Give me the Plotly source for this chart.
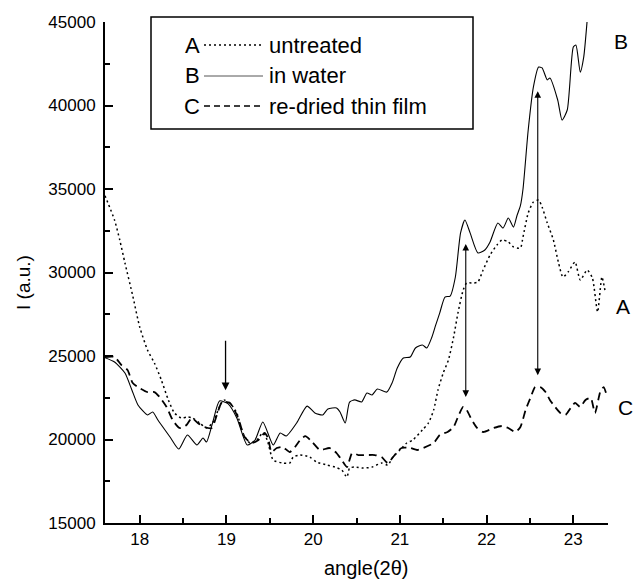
import plotly.graph_objects as go

# ---- data ----
angle_B = [17.60, 17.71, 17.83, 17.91, 17.98, 18.09, 18.15, 18.21, 18.35, 18.45, 18.55, 18.66, 18.73, 18.77,
           18.84, 18.92, 19.02, 19.12, 19.24, 19.33, 19.42, 19.54, 19.62, 19.69, 19.81, 19.93, 20.02, 20.11,
           20.17, 20.27, 20.31, 20.37, 20.42, 20.48, 20.56, 20.62, 20.68, 20.74, 20.85, 20.91, 20.97, 21.04,
           21.12, 21.18, 21.26, 21.31, 21.37, 21.41, 21.46, 21.52, 21.58, 21.64, 21.70, 21.75, 21.81, 21.90,
           21.98, 22.04, 22.13, 22.19, 22.25, 22.31, 22.35, 22.39, 22.42, 22.48, 22.54, 22.60, 22.64, 22.70,
           22.73, 22.82, 22.87, 22.93, 23.00, 23.03, 23.08, 23.12, 23.16, 23.18]
int_B = [24900, 24640, 23980, 22965, 22070, 21470, 21650, 21170, 20150, 19430, 20270, 19670, 20090, 19850,
         20990, 22310, 22130, 21290, 19670, 19970, 21050, 19670, 20390, 20210, 20990, 22000, 21590, 21470,
         21830, 21890, 21650, 20990, 22240, 22370, 22250, 22780, 22670, 23020, 22840, 23380, 24280, 24880,
         24940, 25480, 25660, 25480, 26140, 26800, 27580, 28530, 28590, 29730, 32370, 33140, 32370, 31170,
         31350, 31830, 32960, 32660, 33260, 32720, 33400, 34000, 35000, 38530, 41110, 42300, 42250, 41530,
         41650, 40330, 39130, 39730, 43500, 43620, 42000, 42900, 45120, 46500]

angle_A = [17.60, 17.71, 17.77, 17.83, 17.92, 18.00, 18.09, 18.17, 18.25, 18.33, 18.40, 18.48, 18.55, 18.61,
           18.69, 18.77, 18.84, 18.92, 18.97, 19.04, 19.12, 19.19, 19.27, 19.35, 19.42, 19.47, 19.54, 19.65,
           19.73, 19.77, 19.85, 19.96, 20.04, 20.16, 20.25, 20.33, 20.39, 20.42, 20.48, 20.58, 20.68, 20.79,
           20.86, 20.92, 21.00, 21.08, 21.15, 21.26, 21.33, 21.39, 21.44, 21.50, 21.56, 21.62, 21.67, 21.73,
           21.77, 21.85, 21.90, 21.96, 22.04, 22.12, 22.18, 22.25, 22.31, 22.39, 22.42, 22.48, 22.54, 22.60,
           22.64, 22.70, 22.77, 22.83, 22.88, 22.94, 23.02, 23.08, 23.16, 23.22, 23.28, 23.33, 23.37]
int_A = [34600, 33140, 31950, 30570, 28600, 26740, 25360, 24580, 23560, 22370, 21590, 21290, 21350, 21290,
         20990, 20690, 20990, 21950, 22370, 22190, 21590, 20390, 19790, 19970, 20390, 19970, 18770, 18590,
         18590, 18950, 19070, 18950, 18650, 18470, 18350, 18170, 17750, 18290, 18350, 18290, 18350, 18590,
         18470, 18950, 19370, 19790, 19970, 20570, 20990, 21770, 22970, 23980, 24760, 26140, 27580, 28950,
         29370, 29370, 29430, 30150, 31050, 31650, 31950, 31830, 31530, 31470, 32130, 33560, 34220, 34340,
         33920, 32960, 31950, 30570, 29730, 30030, 30630, 29550, 30150, 29670, 27640, 29730, 28770]

angle_C = [17.60, 17.71, 17.79, 17.86, 17.92, 18.00, 18.09, 18.17, 18.23, 18.31, 18.38, 18.46, 18.54, 18.60,
           18.67, 18.75, 18.83, 18.89, 18.95, 19.04, 19.13, 19.21, 19.29, 19.37, 19.44, 19.48, 19.52, 19.58,
           19.65, 19.73, 19.79, 19.85, 19.91, 19.99, 20.08, 20.19, 20.27, 20.33, 20.39, 20.45, 20.52, 20.62,
           20.71, 20.79, 20.86, 20.94, 21.02, 21.12, 21.20, 21.27, 21.39, 21.46, 21.55, 21.62, 21.67, 21.73,
           21.77, 21.83, 21.89, 21.96, 22.08, 22.18, 22.25, 22.33, 22.39, 22.45, 22.51, 22.56, 22.62, 22.68,
           22.73, 22.79, 22.85, 22.91, 22.97, 23.02, 23.08, 23.14, 23.20, 23.25, 23.31, 23.35, 23.39]
int_C = [24940, 24940, 24460, 24160, 23380, 23080, 22840, 22840, 22540, 21950, 21170, 20690, 20870, 21290,
         20990, 20750, 20690, 21470, 22250, 22190, 21350, 20150, 19790, 19970, 20390, 20090, 19250, 19490,
         19550, 19250, 19550, 19970, 20200, 19850, 19370, 19490, 19190, 18770, 18350, 19190, 19070, 19070,
         19070, 18950, 18590, 19070, 19490, 19490, 19370, 19490, 19790, 20270, 20450, 20750, 21350, 21950,
         21770, 21170, 20690, 20450, 20690, 20810, 20690, 20450, 20750, 21770, 22550, 23140, 23140, 22840,
         22370, 21950, 21590, 21470, 21890, 22190, 21950, 22370, 22490, 21590, 22840, 23140, 22550]

series_letters = ["A", "B", "C"]
series_names = ["untreated", "in water", "re-dried thin film"]

# arrows: single marker at 19 and two double-headed arrows
arrow1_x, arrow1_from, arrow1_to = 18.99, 26000, 22950
darrow_x = [21.76, 22.59]
darrow_top = [31800, 40950]
darrow_bottom = [22550, 23850]

x_ticks = [18, 19, 20, 21, 22, 23]
y_ticks = [15000, 20000, 25000, 30000, 35000, 40000, 45000]
y_tick_labels = [str(v) for v in y_ticks]

FONT = "Liberation Sans, Arial, sans-serif"
W, H = 635, 582
ML, MR, MT, MB = 105, 27, 22, 59
PW, PH = W - ML - MR, H - MT - MB


def px2paper(px, py):
    return (px - ML) / PW, (H - MB - py) / PH


fig = go.Figure()
fig.add_trace(go.Scatter(x=angle_A, y=int_A, mode="lines", line=dict(color="black", width=1.5, dash="2px,3px", shape="spline", smoothing=0.6), showlegend=False))
fig.add_trace(go.Scatter(x=angle_B, y=int_B, mode="lines", line=dict(color="black", width=1.1, shape="spline", smoothing=0.6), showlegend=False))
fig.add_trace(go.Scatter(x=angle_C, y=int_C, mode="lines", line=dict(color="black", width=1.8, dash="8px,5px", shape="spline", smoothing=0.6), showlegend=False))

ann = []
# single arrow
ann.append(dict(x=arrow1_x, y=arrow1_to, ax=arrow1_x, ay=arrow1_from, xref="x", yref="y", axref="x", ayref="y",
                showarrow=True, arrowhead=2, arrowsize=1.2, arrowwidth=1.3, arrowcolor="black", text=""))
for xv, yt, yb in zip(darrow_x, darrow_top, darrow_bottom):
    ann.append(dict(x=xv, y=yb, ax=xv, ay=yt, xref="x", yref="y", axref="x", ayref="y",
                    showarrow=True, arrowhead=2, startarrowhead=2, arrowside="end+start", arrowsize=1.2,
                    startarrowsize=1.2, arrowwidth=1.1, arrowcolor="black", text=""))

# curve end labels
end_labels = [("B", 621, 42), ("A", 623, 306), ("C", 625, 407)]
for t, px, py in end_labels:
    xp, yp = px2paper(px, py)
    ann.append(dict(text=t, x=xp, y=yp, xref="paper", yref="paper", showarrow=False,
                    font=dict(family=FONT, size=21, color="black"), xanchor="center", yanchor="middle"))

# axis titles
xp, yp = px2paper(366, 568)
ann.append(dict(text="angle(2θ)", x=xp, y=yp, xref="paper", yref="paper", showarrow=False,
                font=dict(family=FONT, size=20, color="black"), xanchor="center", yanchor="middle"))
xp, yp = px2paper(23, 283)
ann.append(dict(text="I (a.u.)", x=xp, y=yp, xref="paper", yref="paper", showarrow=False,
                textangle=-90, font=dict(family=FONT, size=19, color="black"), xanchor="center", yanchor="middle"))

# custom legend
shapes = []
bx0, by1 = px2paper(151, 17)
bx1, by0 = px2paper(473, 129)
shapes.append(dict(type="rect", xref="paper", yref="paper", x0=bx0, x1=bx1, y0=by0, y1=by1,
                   line=dict(color="black", width=1.5), fillcolor="white", layer="above"))
row_y = [45, 76, 106]
dashes = [("2px,3px", 1.3, "black"), ("solid", 1.0, "#555"), ("6px,4px", 1.4, "black")]
for i, (letter, name) in enumerate(zip(series_letters, series_names)):
    py = row_y[i]
    xl, yl = px2paper(192, py)
    ann.append(dict(text=letter, x=xl, y=yl, xref="paper", yref="paper", showarrow=False,
                    font=dict(family=FONT, size=22, color="black"), xanchor="center", yanchor="middle"))
    xn, _ = px2paper(267, py)
    ann.append(dict(text=name, x=xn, y=yl, xref="paper", yref="paper", showarrow=False,
                    font=dict(family=FONT, size=22, color="black"), xanchor="left", yanchor="middle"))
    d, w, c = dashes[i]
    x0, _ = px2paper(204, py)
    x1, _ = px2paper(263, py)
    shapes.append(dict(type="line", xref="paper", yref="paper", x0=x0, x1=x1, y0=yl, y1=yl,
                       line=dict(color=c, width=w, dash=d)))

fig.update_layout(
    width=W, height=H,
    margin=dict(l=ML, r=MR, t=MT, b=MB),
    paper_bgcolor="white", plot_bgcolor="white",
    showlegend=False,
    annotations=ann, shapes=shapes,
    font=dict(family=FONT, color="black"),
)
fig.update_xaxes(range=[17.6, 23.4], tickvals=x_ticks, ticks="inside", ticklen=8, tickwidth=1.5, tickcolor="black",
                 showline=True, linecolor="black", linewidth=2, showgrid=False, zeroline=False,
                 tickfont=dict(family=FONT, size=17, color="black"),
                 minor=dict(dtick=0.5, tick0=17.5, ticks="inside", ticklen=5, tickwidth=1.5, tickcolor="black", showgrid=False))
fig.update_yaxes(range=[15000, 45000], tickvals=y_ticks, ticktext=y_tick_labels, ticks="inside", ticklen=8, tickwidth=1.5,
                 tickcolor="black", showline=True, linecolor="black", linewidth=2, showgrid=False, zeroline=False,
                 tickfont=dict(family=FONT, size=17, color="black"), ticklabelstandoff=4,
                 minor=dict(dtick=2500, tick0=15000, ticks="inside", ticklen=5, tickwidth=1.5, tickcolor="black", showgrid=False))

fig.write_html("out.html")
